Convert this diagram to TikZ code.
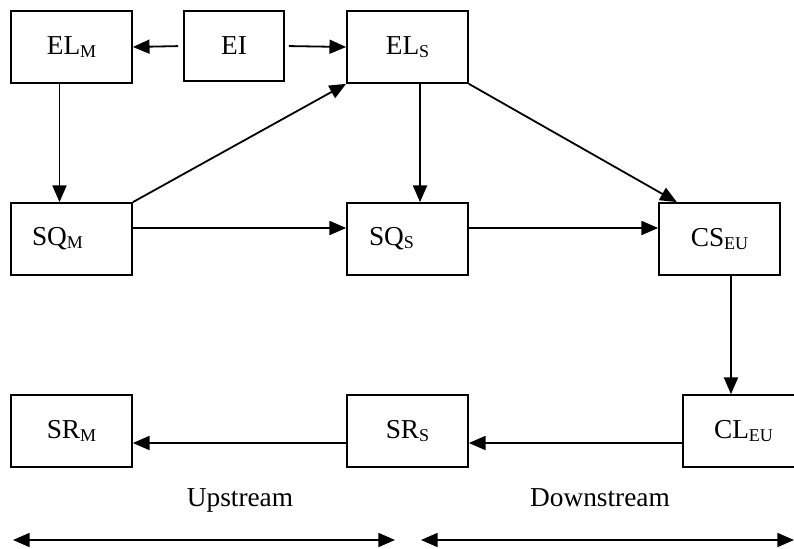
\documentclass[tikz,border=0pt]{standalone}
\usepackage{fontspec}
\setmainfont{Liberation Serif}
\usetikzlibrary{arrows.meta}
\newcommand{\lowtext}[1]{\raisebox{-2pt}{\fontsize{13.5}{13.5}\selectfont #1}}
\begin{document}
\begin{tikzpicture}[x=0.75pt,y=-0.75pt,
  boxnode/.style={draw, line width=1.3pt, inner sep=0pt, minimum width=90.75pt, minimum height=54pt,
    font=\fontsize{20.5}{24}\selectfont},
  lbl/.style={inner sep=0pt, font=\fontsize{20.5}{24}\selectfont},
  arr/.style={line width=1.35pt, -{Triangle[length=12.5pt,width=10.5pt]}},
  dblarr/.style={line width=1.35pt, {Triangle[length=12.5pt,width=10.5pt]}-{Triangle[length=12.5pt,width=10.5pt]}}]
\useasboundingbox (0,0) rectangle (794,549);
% nodes
\node[boxnode] (ELM) at (71.5,47) {EL\lowtext{M}};
\node[boxnode, minimum width=75pt, minimum height=52.5pt] (EI) at (234,46) {EI};
\node[boxnode] (ELS) at (407.5,47) {EL\lowtext{S}};
\node[boxnode] (SQM) at (71.5,239) {SQ\lowtext{M}\hspace*{21pt}};
\node[boxnode] (SQS) at (407.5,239) {SQ\lowtext{S}\hspace*{24pt}};
\node[boxnode] (CSEU) at (719.5,239) {CS\lowtext{EU}};
\node[boxnode] (SRM) at (71.5,431) {SR\lowtext{M}};
\node[boxnode] (SRS) at (407.5,431) {SR\lowtext{S}};
\node[boxnode] (CLEU) at (743.5,431) {CL\lowtext{EU}};
\node[lbl, anchor=base] (UP) at (240,507) {Upstream};
\node[lbl, anchor=base] (DOWN) at (600,507) {Downstream};
\coordinate (A1) at (13,540);
\coordinate (A2) at (395,540);
\coordinate (B1) at (421,540);
\coordinate (B2) at (794,540);
% connectors
\draw[arr, shorten <=3.75pt] (EI.west) -- (ELM.east);
\draw[arr, shorten <=3pt] (EI.east) -- (ELS.west);
\draw[arr] ([xshift=-9pt]ELM.south) -- ([xshift=-9pt]SQM.north);
\draw[arr] (SQM.north east) -- (ELS.south west);
\draw[arr] ([xshift=9.4pt]ELS.south) -- ([xshift=9.4pt]SQS.north);
\draw[arr] (ELS.south east) -- ([xshift=-32pt]CSEU.north);
\draw[arr] ([yshift=8.25pt]SQM.east) -- ([yshift=8.25pt]SQS.west);
\draw[arr] ([yshift=8.25pt]SQS.east) -- ([yshift=8.25pt]CSEU.west);
\draw[arr] ([xshift=8.6pt]CSEU.south) -- ([xshift=8.6pt]CSEU.south |- CLEU.north);
\draw[arr] ([yshift=-9pt]CLEU.west) -- ([yshift=-9pt]SRS.east);
\draw[arr] ([yshift=-9pt]SRS.west) -- ([yshift=-9pt]SRM.east);
\draw[dblarr] (A1) -- (A2);
\draw[dblarr] (B1) -- (B2);
\end{tikzpicture}
\end{document}
